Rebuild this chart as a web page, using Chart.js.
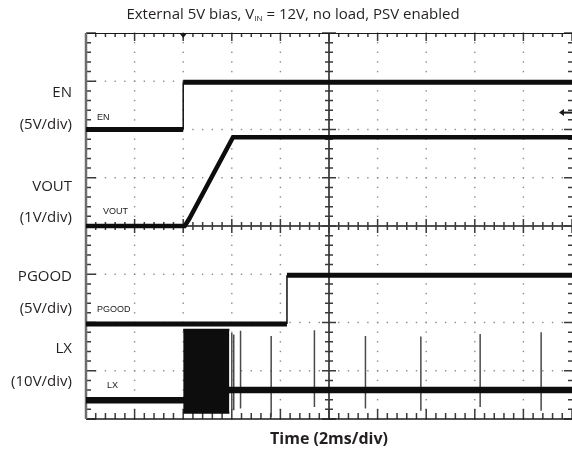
<!DOCTYPE html>
<html lang="en">
<head>
<meta charset="UTF-8">
<title>Start-up waveforms</title>
<script src="https://cdn.jsdelivr.net/npm/chart.js"></script>
<style>
  body { margin: 0; background: #fff; }
  .wrap { position: relative; width: 572px; height: 452px; }
  .wrap canvas { position: absolute; left: 0; top: 0; }
  .scope-title {
    position: absolute; top: 3px; left: 0; width: 572px;
    padding-left: 14px; box-sizing: border-box;
    text-align: center; line-height: 20px;
    font: 15px 'Open Sans', sans-serif; color: #231f20;
  }
  .scope-title sub { font-size: 8px; vertical-align: -2px; }
</style>
</head>
<body>
<div class="wrap">
  <canvas id="scope" width="572" height="452"></canvas>
  <div class="scope-title">External 5V bias, V<sub>IN</sub> = 12V, no load, PSV enabled</div>
</div>

<script>
// time in ms (2 ms/div), levels in screen divisions (0 = bottom graticule line)
const enTime = [0, 4.0, 4.0, 20];
const enLevel = [6.0, 6.0, 6.98, 6.98];

const voutTime = [0, 4.06, 4.25, 6.05, 20];
const voutLevel = [4.0, 4.0, 4.15, 5.84, 5.84];

const pgoodTime = [0, 8.27, 8.27, 20];
const pgoodLevel = [1.97, 1.97, 2.98, 2.98];

const lxTime = [0, 4.0, 5.9, 20];
const lxLevel = [0.39, 0.39, 0.6, 0.6];

// switching burst envelope
const burstTime = [4.0, 5.9];
const burstTop = [1.85, 1.85];
const burstBottom = [0.13, 0.13];

// single PSV pulses after start-up
const spikeTime = [6.0, 6.08, 6.36, 7.62, 9.40, 11.50, 13.78, 16.22, 18.73];
const spikeTop = [1.78, 1.75, 1.83, 1.72, 1.84, 1.72, 1.71, 1.76, 1.80];
const spikeBottom = [0.2, 0.18, 0.22, 0.04, 0.25, 0.22, 0.17, 0.25, 0.17];

const triggerTime = 4.0;

// channel labels on the left
const yLabelAt = [0.77, 1.45, 2.28, 2.94, 4.17, 4.81, 6.09, 6.76];
const yLabelText = ['(10V/div)', 'LX', '(5V/div)', 'PGOOD', '(1V/div)', 'VOUT', '(5V/div)', 'EN'];

const pts = (xs, ys) => xs.map((x, i) => ({ x: x, y: ys[i] }));

const spikePts = [];
spikeTime.forEach((t, i) => {
    spikePts.push({ x: t, y: spikeTop[i] }, { x: t, y: spikeBottom[i] }, { x: t, y: null });
});

// vertical edges are thin, flat (noisy) parts are thick
const edgeWidth = c => c.p0.parsed.x === c.p1.parsed.x ? 1.5 : undefined;

function trace(label, data, width) {
    return {
        label: label, data: data,
        borderColor: '#0d0d0d', borderWidth: width,
        segment: { borderWidth: edgeWidth },
        pointRadius: 0, tension: 0, fill: false
    };
}

const scopeGrid = {
    id: 'scopeGrid',
    beforeDatasetsDraw(chart) {
        const { ctx, chartArea: a, scales: { x, y } } = chart;
        ctx.save();

        // dotted graticule
        ctx.fillStyle = '#8a8a8a';
        for (let i = 1; i < 10; i++) {
            if (i === 5) continue;
            const px = x.getPixelForValue(i * 2);
            for (let k = 0; k <= 40; k++) {
                ctx.fillRect(px - 0.7, y.getPixelForValue(k * 0.2) - 0.7, 1.4, 1.4);
            }
        }
        for (let j = 1; j < 8; j++) {
            if (j === 4) continue;
            const py = y.getPixelForValue(j);
            for (let k = 0; k <= 50; k++) {
                ctx.fillRect(x.getPixelForValue(k * 0.4) - 0.7, py - 0.7, 1.4, 1.4);
            }
        }

        // centre axes
        const cx = x.getPixelForValue(10), cy = y.getPixelForValue(4);
        ctx.strokeStyle = '#1a1a1a';
        ctx.lineWidth = 1.5;
        ctx.beginPath();
        ctx.moveTo(a.left, cy); ctx.lineTo(a.right, cy);
        ctx.moveTo(cx, a.top); ctx.lineTo(cx, a.bottom);
        ctx.stroke();

        ctx.strokeStyle = '#3a3a3a';
        ctx.beginPath();
        for (let k = 0; k <= 50; k++) {
            const px = x.getPixelForValue(k * 0.4);
            const big = k % 5 === 0;
            ctx.moveTo(px, cy - (big ? 7 : 4)); ctx.lineTo(px, cy + (big ? 7 : 4));
            ctx.moveTo(px, a.top); ctx.lineTo(px, a.top + (big ? 8 : 4));
            ctx.moveTo(px, a.bottom); ctx.lineTo(px, a.bottom - (big ? 10 : 6));
        }
        for (let k = 0; k <= 40; k++) {
            const py = y.getPixelForValue(k * 0.2);
            const big = k % 5 === 0;
            ctx.moveTo(cx - (big ? 7 : 4), py); ctx.lineTo(cx + (big ? 7 : 4), py);
            ctx.moveTo(a.left, py); ctx.lineTo(a.left + (big ? 10 : 5), py);
            ctx.moveTo(a.right, py); ctx.lineTo(a.right - (big ? 8 : 4), py);
        }
        ctx.stroke();

        // frame
        ctx.strokeStyle = '#1a1a1a';
        ctx.lineWidth = 1;
        ctx.beginPath();
        ctx.moveTo(a.left, a.top + 0.5); ctx.lineTo(a.right, a.top + 0.5);
        ctx.stroke();
        ctx.lineWidth = 1.5;
        ctx.beginPath();
        ctx.moveTo(a.left, a.bottom); ctx.lineTo(a.right, a.bottom);
        ctx.stroke();
        ctx.strokeStyle = '#6e6e6e';
        ctx.lineWidth = 2.5;
        ctx.beginPath();
        ctx.moveTo(a.left, a.top); ctx.lineTo(a.left, a.bottom);
        ctx.stroke();
        ctx.restore();
    },
    afterDatasetsDraw(chart) {
        const { ctx, chartArea: a, scales: { x, y } } = chart;
        ctx.save();
        ctx.fillStyle = '#1a1a1a';
        ctx.font = '9px "Liberation Sans", Arial, sans-serif';
        ctx.textBaseline = 'middle';
        const tag = (text, t, v) => ctx.fillText(text, x.getPixelForValue(t), y.getPixelForValue(v));
        tag('EN', 0.45, 6.24);
        tag('VOUT', 0.70, 4.29);
        tag('PGOOD', 0.45, 2.26);
        tag('LX', 0.86, 0.70);

        // trigger marker
        const tx = x.getPixelForValue(triggerTime);
        ctx.beginPath();
        ctx.moveTo(tx - 4, a.top); ctx.lineTo(tx + 4, a.top); ctx.lineTo(tx, a.top + 5);
        ctx.closePath();
        ctx.fill();

        // reference arrow on the right
        const ay = y.getPixelForValue(6.35);
        ctx.fillRect(a.right - 9, ay - 1, 9, 2);
        ctx.beginPath();
        ctx.moveTo(a.right - 13, ay); ctx.lineTo(a.right - 8, ay - 3.5); ctx.lineTo(a.right - 8, ay + 3.5);
        ctx.closePath();
        ctx.fill();
        ctx.restore();
    }
};

new Chart(document.getElementById('scope'), {
    type: 'line',
    data: {
        datasets: [
            trace('EN', pts(enTime, enLevel), 5),
            trace('VOUT', pts(voutTime, voutLevel), 4.5),
            trace('PGOOD', pts(pgoodTime, pgoodLevel), 5),
            trace('LX', pts(lxTime, lxLevel), 6.5),
            {
                label: 'LX burst top', data: pts(burstTime, burstTop),
                borderColor: '#0d0d0d', borderWidth: 2, pointRadius: 0, fill: false
            },
            {
                label: 'LX burst bottom', data: pts(burstTime, burstBottom),
                borderColor: '#0d0d0d', borderWidth: 2, pointRadius: 0,
                fill: '-1', backgroundColor: '#0d0d0d'
            },
            {
                label: 'LX pulses', data: spikePts,
                borderColor: '#4a4a4a', borderWidth: 1.5, pointRadius: 0,
                spanGaps: false, fill: false
            }
        ]
    },
    options: {
        responsive: false,
        animation: false,
        events: [],
        layout: { padding: { top: 33, right: 0, left: 0, bottom: 0 } },
        plugins: {
            legend: { display: false },
            tooltip: { enabled: false }
        },
        scales: {
            x: {
                type: 'linear', min: 0, max: 20,
                grid: { display: false, drawTicks: false },
                border: { display: false },
                ticks: { display: false },
                title: {
                    display: true, text: 'Time (2ms/div)',
                    color: '#231f20',
                    font: { family: 'Open Sans', size: 16, weight: 'bold' },
                    padding: { top: 0, bottom: 3 }
                },
                afterFit: s => { s.height = 33; }
            },
            y: {
                type: 'linear', min: 0, max: 8,
                grid: { display: false, drawTicks: false },
                border: { display: false },
                afterBuildTicks: s => { s.ticks = yLabelAt.map(v => ({ value: v })); },
                ticks: {
                    autoSkip: false,
                    padding: 14,
                    color: '#231f20',
                    font: { family: 'Open Sans', size: 15 },
                    callback: (v, i) => yLabelText[i]
                },
                afterFit: s => { s.width = 86; }
            }
        }
    },
    plugins: [scopeGrid]
});
</script>
</body>
</html>
